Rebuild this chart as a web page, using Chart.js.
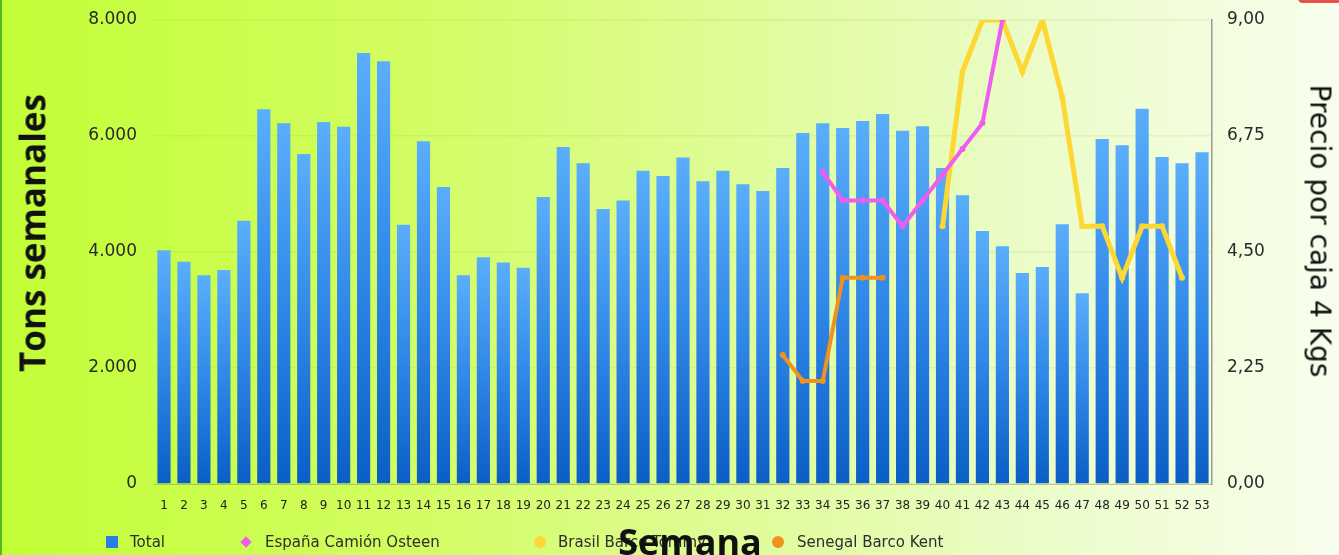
<!DOCTYPE html>
<html lang="es">
<head>
<meta charset="utf-8">
<title>Tons semanales y precio por caja</title>
<script src="https://cdn.jsdelivr.net/npm/chart.js@4.4.1/dist/chart.umd.min.js"></script>
<style>
  html, body { margin: 0; padding: 0; }
  body {
    width: 1339px; height: 555px; overflow: hidden; position: relative;
    background: linear-gradient(90deg, #c2fe36 0%, #d2fd60 30%, #dcfc8c 50%, #eafcc4 75%, #f8feee 100%);
    font-family: "DejaVu Sans", sans-serif;
  }
  #wrap { position: absolute; left: 0; top: 0; width: 1339px; height: 555px; }
  .edge { position: absolute; left: 0; top: 0; width: 2px; height: 555px; background: #52b91c; }
  .corner { position: absolute; left: 1298px; top: -6px; width: 44px; height: 9px; border-radius: 6px; background: #e8524a; }
  .ytitle {
    position: absolute; left: 32px; top: 233px; transform: translate(-50%, -50%) rotate(-90deg);
    font: bold 35px "Open Sans", sans-serif; color: #111; white-space: nowrap;
  }
  .y2title {
    position: absolute; left: 1320px; top: 231px; transform: translate(-50%, -50%) rotate(90deg);
    font: 28px "DejaVu Sans", sans-serif; color: #111; white-space: nowrap;
  }
  .xtitle {
    position: absolute; left: 690px; top: 541px; transform: translate(-50%, -50%);
    font: bold 36px "Open Sans", sans-serif; color: #111; white-space: nowrap; z-index: 3;
  }
  .legend { position: absolute; top: 542px; transform: translateY(-50%); font: 15px "DejaVu Sans", sans-serif; color: #2e2e2e; white-space: nowrap; }
  .mk { position: absolute; top: 542px; transform: translate(-50%, -50%); }
</style>
</head>
<body>
<div class="edge"></div>
<div class="corner"></div>
<div id="wrap"><canvas id="chart"></canvas></div>

<div class="ytitle">Tons semanales</div>
<div class="y2title">Precio por caja 4 Kgs</div>

<div class="mk" style="left:112px;width:12px;height:12px;background:#2a7de2;"></div>
<div class="legend" style="left:130px;">Total</div>
<div class="mk" style="left:246px;width:8px;height:8px;background:#ee5cf0;transform:translate(-50%,-50%) rotate(45deg);"></div>
<div class="legend" style="left:265px;">España Camión Osteen</div>
<div class="mk" style="left:540px;width:12px;height:12px;border-radius:50%;background:#fdd835;"></div>
<div class="legend" style="left:558px;">Brasil Barco Tommy</div>
<div class="mk" style="left:778px;width:12px;height:12px;border-radius:50%;background:#f0921e;"></div>
<div class="legend" style="left:797px;">Senegal Barco Kent</div>

<div class="xtitle">Semana</div>

<script>
// semanas 1..53
const weeks = ['1','2','3','4','5','6','7','8','9','10','11','12','13','14','15','16','17','18','19','20',
  '21','22','23','24','25','26','27','28','29','30','31','32','33','34','35','36','37','38','39','40',
  '41','42','43','44','45','46','47','48','49','50','51','52','53'];

// toneladas por semana (eje izquierdo)
const totalTons = [4030, 3830, 3600, 3690, 4540, 6460, 6220, 5690, 6240, 6160,
  7430, 7290, 4470, 5910, 5120, 3600, 3910, 3820, 3730, 4950,
  5810, 5530, 4740, 4890, 5400, 5310, 5630, 5220, 5400, 5170,
  5050, 5450, 6050, 6220, 6140, 6260, 6380, 6090, 6170, 5450,
  4980, 4360, 4100, 3640, 3740, 4480, 3290, 5950, 5840, 6470,
  5640, 5530, 5720];

// precios por caja (eje derecho), null = sin dato
const espanaPrice = [null, null, null, null, null, null, null, null, null, null,
  null, null, null, null, null, null, null, null, null, null,
  null, null, null, null, null, null, null, null, null, null,
  null, null, null, 6.05, 5.5, 5.5, 5.5, 5.0, 5.5, 6.0,
  6.5, 7.0, 9.0, null, null, null, null, null, null, null,
  null, null, null];

const brasilPrice = [null, null, null, null, null, null, null, null, null, null,
  null, null, null, null, null, null, null, null, null, null,
  null, null, null, null, null, null, null, null, null, null,
  null, null, null, null, null, null, null, null, null, 5.0,
  8.0, 9.0, 9.0, 8.0, 9.0, 7.5, 5.0, 5.0, 4.0, 5.0,
  5.0, 4.0, null];

const senegalPrice = [null, null, null, null, null, null, null, null, null, null,
  null, null, null, null, null, null, null, null, null, null,
  null, null, null, null, null, null, null, null, null, null,
  null, 2.5, 2.0, 2.0, 4.0, 4.0, 4.0, null, null, null,
  null, null, null, null, null, null, null, null, null, null,
  null, null, null];

const leftTicks = [0, 2000, 4000, 6000, 8000];
const rightTicks = [0, 2.25, 4.5, 6.75, 9];

const tickFont = { family: 'DejaVu Sans', size: 17 };
const tickColor = '#2a2a2a';

function barGradient(ctx) {
  const chart = ctx.chart;
  if (!chart.chartArea || ctx.type !== 'data') return '#2f86e8';
  const y = chart.scales.y;
  const top = y.getPixelForValue(ctx.raw);
  const base = y.getPixelForValue(0);
  const g = chart.ctx.createLinearGradient(0, top, 0, base);
  g.addColorStop(0, '#5aaefb');
  g.addColorStop(0.5, '#3088e8');
  g.addColorStop(1, '#0a5ec6');
  return g;
}

function lineSet(label, data, color, width) {
  return {
    type: 'line',
    label,
    data,
    yAxisID: 'y1',
    borderColor: color,
    backgroundColor: color,
    borderWidth: width,
    pointRadius: 3,
    pointBorderWidth: 0,
    pointBackgroundColor: color,
    tension: 0,
    spanGaps: false,
    order: 1
  };
}

new Chart(document.getElementById('chart'), {
  data: {
    labels: weeks,
    datasets: [
      Object.assign(lineSet('España Camión Osteen', espanaPrice, '#ee5cf0', 4), { order: 0 }),
      lineSet('Brasil Barco Tommy', brasilPrice, '#fdd835', 5),
      lineSet('Senegal Barco Kent', senegalPrice, '#f0921e', 4),
      {
        type: 'bar',
        label: 'Total',
        data: totalTons,
        yAxisID: 'y',
        backgroundColor: barGradient,
        borderWidth: 0,
        barPercentage: 0.66,
        categoryPercentage: 1,
        order: 5
      }
    ]
  },
  options: {
    responsive: true,
    maintainAspectRatio: false,
    animation: false,
    layout: { padding: { top: 20, left: 0, right: 0, bottom: 0 } },
    plugins: {
      legend: { display: false },
      tooltip: { enabled: false }
    },
    scales: {
      x: {
        grid: { display: false },
        border: { display: true, color: 'rgba(120,150,70,0.45)', width: 1 },
        ticks: {
          color: '#222',
          font: { family: 'DejaVu Sans', size: 12 },
          autoSkip: false, maxRotation: 0, minRotation: 0, padding: 7
        },
        afterFit: s => { s.height = 71; }
      },
      y: {
        position: 'left',
        min: 0, max: 8000,
        afterBuildTicks: s => { s.ticks = leftTicks.map(v => ({ value: v })); },
        grid: { color: 'rgba(150,185,40,0.14)', lineWidth: 1.5, drawTicks: true, tickLength: 17, tickColor: 'rgba(0,0,0,0)' },
        border: { display: false },
        ticks: {
          color: tickColor, font: tickFont, padding: 0,
          callback: v => v === 0 ? '0' : v.toLocaleString('de-DE')
        },
        afterFit: s => { s.width = 154; }
      },
      y1: {
        position: 'right',
        min: 0, max: 9,
        afterBuildTicks: s => { s.ticks = rightTicks.map(v => ({ value: v })); },
        grid: { drawOnChartArea: false, drawTicks: true, tickLength: 15, tickColor: 'rgba(0,0,0,0)' },
        border: { display: true, color: '#9a9a9a', width: 1.5 },
        ticks: {
          color: tickColor, font: tickFont, padding: 0,
          callback: v => v.toFixed(2).replace('.', ',')
        },
        afterFit: s => { s.width = 127; }
      }
    }
  }
});
</script>
</body>
</html>
